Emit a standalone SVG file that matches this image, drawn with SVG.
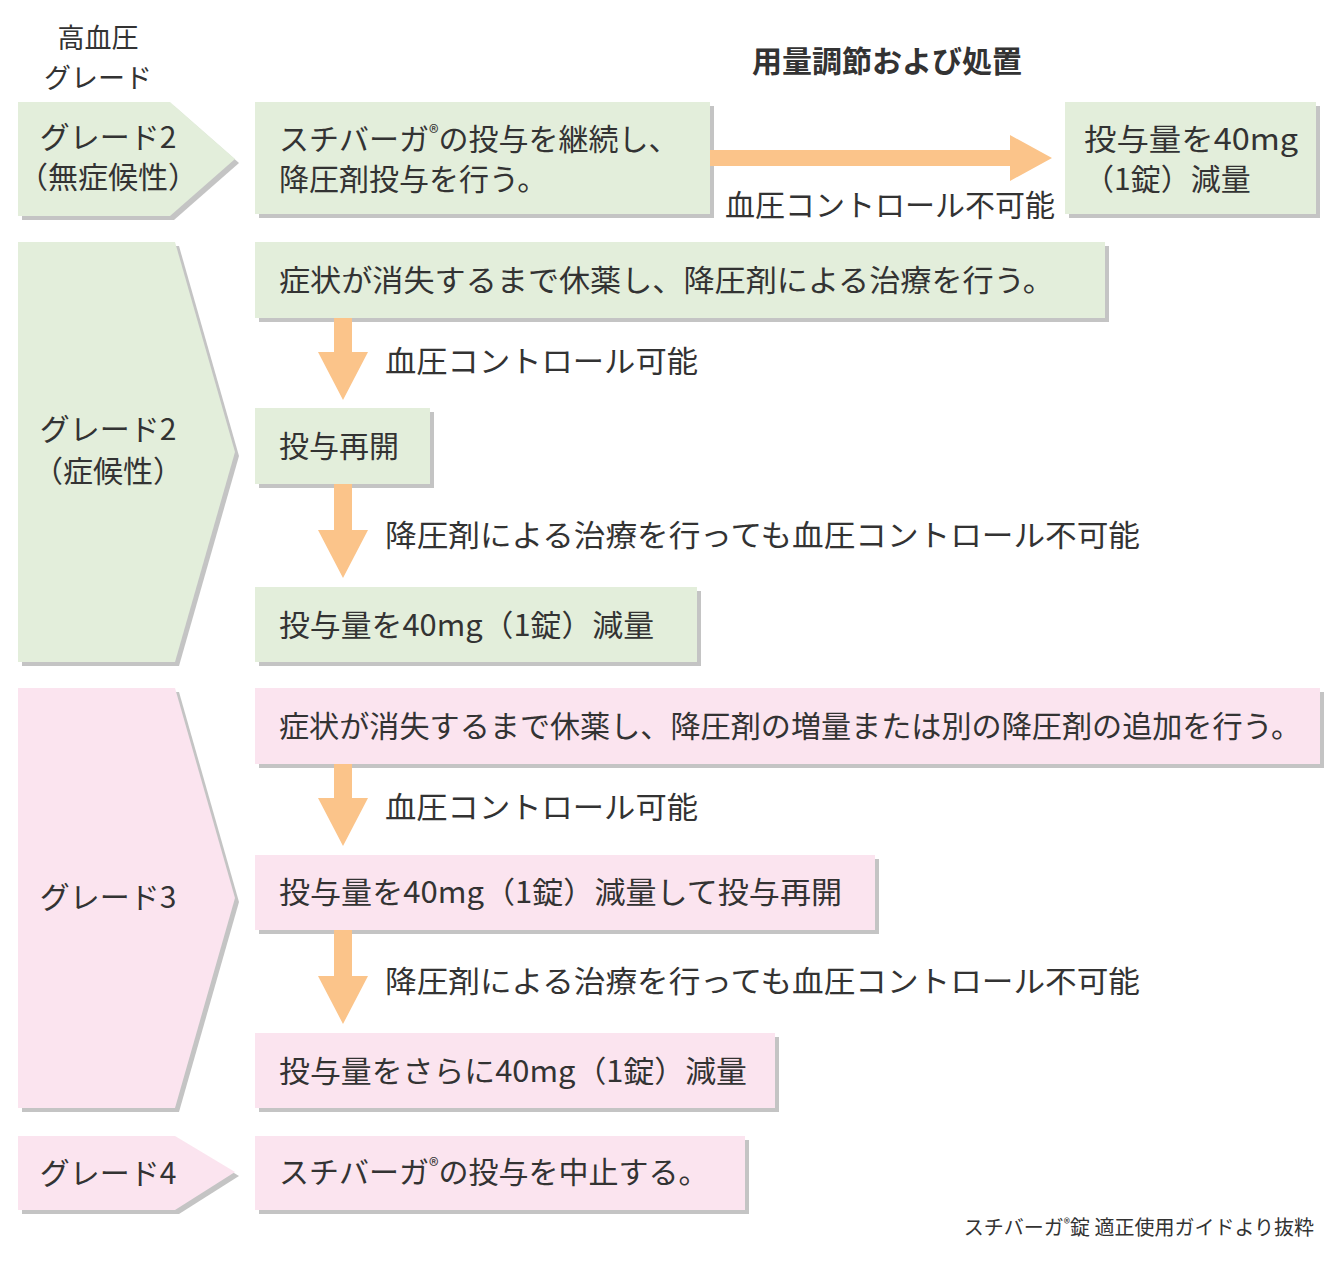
<svg xmlns="http://www.w3.org/2000/svg" width="1337" height="1262" viewBox="0 0 1337 1262">
<defs>
<style>
text{font-family:"Noto Sans CJK JP","Noto Sans",sans-serif;fill:#333;}
.t{font-size:30px;}
.g{fill:#e3eedb;}
.p{fill:#fbe4ef;}
.sh{fill:#c4c4c4;}
.ar{fill:#fbc48a;}
</style>
</defs>
<rect width="1337" height="1262" fill="#fff"/>
<text x="98" y="48" font-size="27" text-anchor="middle">高血圧</text>
<text x="98" y="88" font-size="27" text-anchor="middle">グレード</text>
<text x="887" y="72" class="t" text-anchor="middle" font-weight="bold" font-size="29">用量調節および処置</text>

<g id="grade2a">
<polygon class="sh" points="22,106 174,106 239,163 174,220 22,220"/>
<polygon class="g" points="18,102 170,102 235,159 170,216 18,216"/>
<text x="108" y="148" class="t" text-anchor="middle">グレード2</text>
<text x="108" y="188" class="t" text-anchor="middle">（無症候性）</text>
</g>
<g id="grade2b">
<polygon class="sh" points="22,246 179,246 239,456 179,666 22,666"/>
<polygon class="g" points="18,242 175,242 235,452 175,662 18,662"/>
<text x="108" y="440" class="t" text-anchor="middle">グレード2</text>
<text x="108" y="482" class="t" text-anchor="middle">（症候性）</text>
</g>
<g id="grade3">
<polygon class="sh" points="22,692 179,692 239,902 179,1112 22,1112"/>
<polygon class="p" points="18,688 175,688 235,898 175,1108 18,1108"/>
<text x="108" y="908" class="t" text-anchor="middle">グレード3</text>
</g>
<g id="grade4">
<polygon class="sh" points="22,1140 179,1140 239,1176 179,1214 22,1214"/>
<polygon class="p" points="18,1136 175,1136 235,1172 175,1210 18,1210"/>
<text x="108" y="1184" class="t" text-anchor="middle">グレード4</text>
</g>

<g id="b1"><rect class="sh" x="259" y="106" width="455" height="112"/><rect class="g" x="255" y="102" width="455" height="112"/>
<text x="279" y="150" class="t">スチバーガ<tspan font-size="20" dy="-10">®</tspan><tspan dy="10">の投与を継続し、</tspan></text>
<text x="279" y="190" class="t">降圧剤投与を行う。</text></g>
<g id="b2"><rect class="sh" x="1069" y="106" width="251" height="112"/><rect class="g" x="1065" y="102" width="251" height="112"/>
<text x="1084" y="150" class="t" textLength="214" lengthAdjust="spacingAndGlyphs">投与量を40mg</text>
<text x="1084" y="190" class="t">（1錠）減量</text></g>
<g id="b3"><rect class="sh" x="259" y="246" width="850" height="76"/><rect class="g" x="255" y="242" width="850" height="76"/>
<text x="279" y="291" class="t" textLength="775" lengthAdjust="spacingAndGlyphs">症状が消失するまで休薬し、降圧剤による治療を行う。</text></g>
<g id="b4"><rect class="sh" x="259" y="412" width="175" height="76"/><rect class="g" x="255" y="408" width="175" height="76"/>
<text x="279" y="457" class="t">投与再開</text></g>
<g id="b5"><rect class="sh" x="259" y="591" width="442" height="75"/><rect class="g" x="255" y="587" width="442" height="75"/>
<text x="279" y="636" class="t" textLength="375" lengthAdjust="spacingAndGlyphs">投与量を40mg（1錠）減量</text></g>
<g id="b6"><rect class="sh" x="259" y="692" width="1065" height="76"/><rect class="p" x="255" y="688" width="1065" height="76"/>
<text x="279" y="737" class="t" textLength="1022" lengthAdjust="spacingAndGlyphs">症状が消失するまで休薬し、降圧剤の増量または別の降圧剤の追加を行う。</text></g>
<g id="b7"><rect class="sh" x="259" y="859" width="620" height="75"/><rect class="p" x="255" y="855" width="620" height="75"/>
<text x="279" y="903" class="t" textLength="563" lengthAdjust="spacingAndGlyphs">投与量を40mg（1錠）減量して投与再開</text></g>
<g id="b8"><rect class="sh" x="259" y="1037" width="520" height="75"/><rect class="p" x="255" y="1033" width="520" height="75"/>
<text x="279" y="1082" class="t" textLength="468" lengthAdjust="spacingAndGlyphs">投与量をさらに40mg（1錠）減量</text></g>
<g id="b9"><rect class="sh" x="259" y="1140" width="490" height="74"/><rect class="p" x="255" y="1136" width="490" height="74"/>
<text x="279" y="1183" class="t">スチバーガ<tspan font-size="20" dy="-10">®</tspan><tspan dy="10">の投与を中止する。</tspan></text></g>

<g id="connectors">
<polygon class="ar" points="710,150 1010,150 1010,135 1052,158 1010,181 1010,166 710,166"/>
<polygon class="ar" points="334,318 352,318 352,352 368,352 343,400 318,352 334,352"/>
<polygon class="ar" points="334,484 352,484 352,530 368,530 343,578 318,530 334,530"/>
<polygon class="ar" points="334,764 352,764 352,798 368,798 343,846 318,798 334,798"/>
<polygon class="ar" points="334,930 352,930 352,976 368,976 343,1024 318,976 334,976"/>
<text x="725" y="216" class="t">血圧コントロール不可能</text>
<text x="385" y="372" class="t" textLength="313" lengthAdjust="spacingAndGlyphs">血圧コントロール可能</text>
<text x="385" y="546" class="t" textLength="755" lengthAdjust="spacingAndGlyphs">降圧剤による治療を行っても血圧コントロール不可能</text>
<text x="385" y="818" class="t" textLength="313" lengthAdjust="spacingAndGlyphs">血圧コントロール可能</text>
<text x="385" y="992" class="t" textLength="755" lengthAdjust="spacingAndGlyphs">降圧剤による治療を行っても血圧コントロール不可能</text>
</g>
<text x="1314" y="1235" font-size="20" text-anchor="end">スチバーガ<tspan font-size="13" dy="-7">®</tspan><tspan dy="7">錠 適正使用ガイドより抜粋</tspan></text>
</svg>
